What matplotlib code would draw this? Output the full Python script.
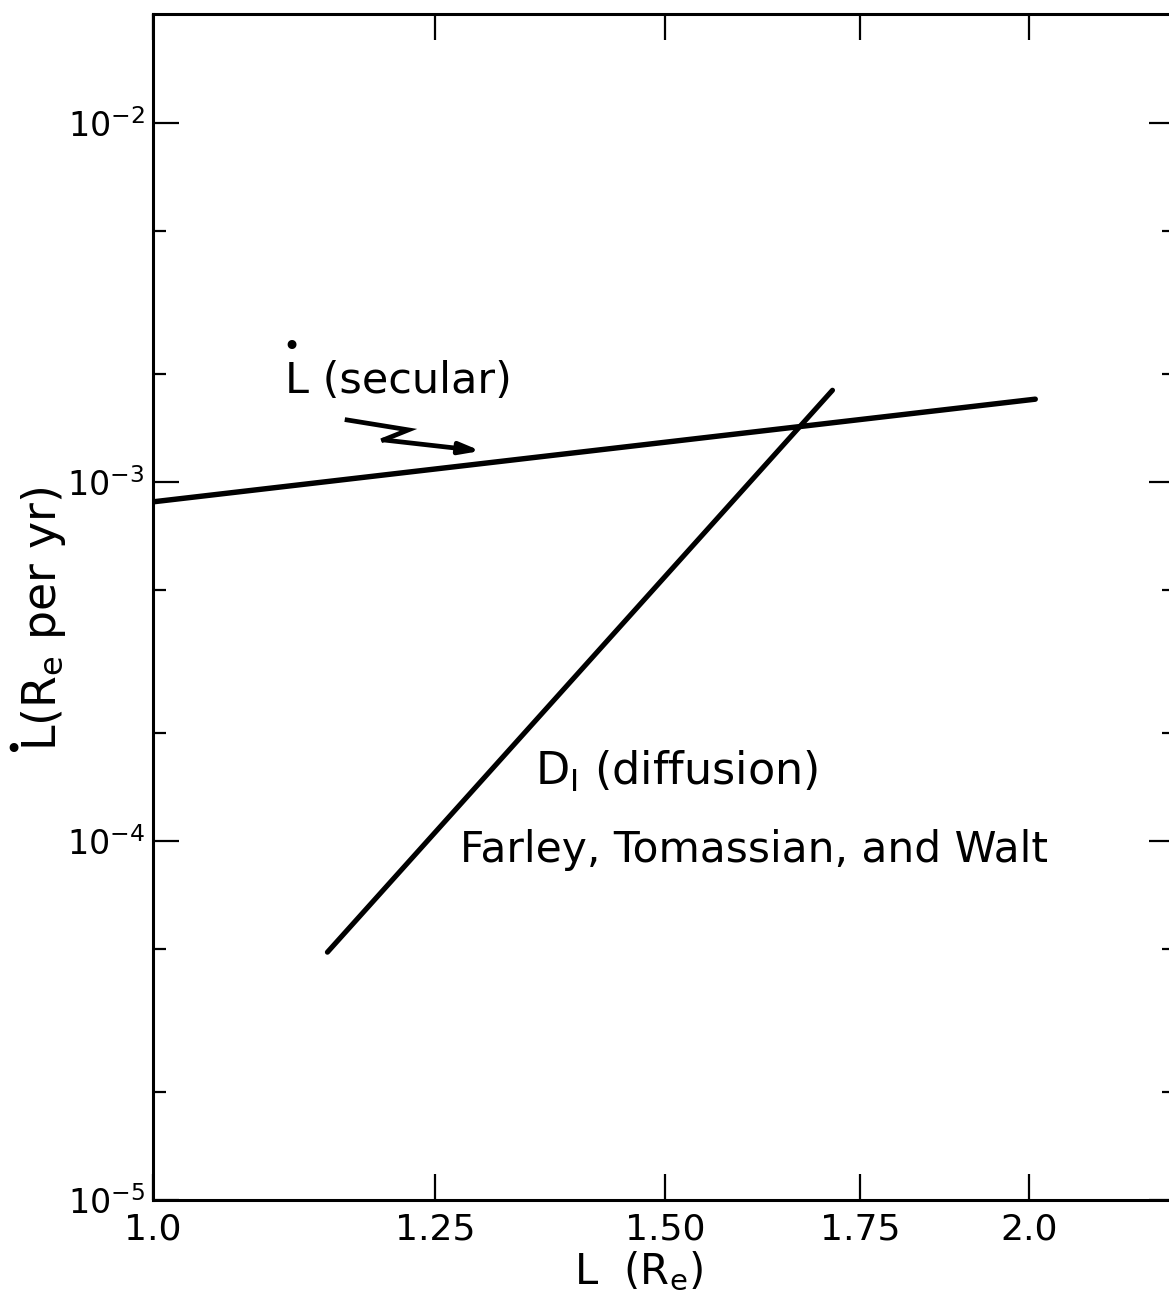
import matplotlib
matplotlib.use('Agg')
import matplotlib.pyplot as plt
from matplotlib.ticker import FixedLocator, NullLocator, NullFormatter, FixedFormatter

plt.rcParams['font.family'] = ['DejaVu Sans']
plt.rcParams['mathtext.fontset'] = 'dejavusans'

# L dot (secular) line
secular_L = [1.0, 2.01]
secular_rate = [8.8e-4, 1.70e-3]

# D_I diffusion (Farley, Tomassian, and Walt)
diffusion_L = [1.148, 1.712]
diffusion_rate = [4.9e-5, 1.8e-3]

# zigzag pointer next to the "L (secular)" label
arrow_L = [1.166, 1.224, 1.200, 1.296]
arrow_rate = [1.488e-3, 1.396e-3, 1.309e-3, 1.220e-3]

x_ticks = [1.0, 1.25, 1.5, 1.75, 2.0]
x_labels = ['1.0', '1.25', '1.50', '1.75', '2.0']
y_ticks = [1e-5, 1e-4, 1e-3, 1e-2]
y_labels = [r'$\mathregular{10^{-5}}$', r'$\mathregular{10^{-4}}$',
            r'$\mathregular{10^{-3}}$', r'$\mathregular{10^{-2}}$']
y_minor = [2e-5, 5e-5, 2e-4, 5e-4, 2e-3, 5e-3]

W, H = 1169, 1304
fig = plt.figure(figsize=(W / 100, H / 100), dpi=100)
ax = fig.add_axes([153 / W, 1 - 1200 / H, (1175 - 153) / W, (1200 - 14) / H])

ax.plot(secular_L, secular_rate, color='black', lw=3.9, solid_capstyle='round')
ax.plot(diffusion_L, diffusion_rate, color='black', lw=3.7, solid_capstyle='round')

# zigzag arrow
ax.plot(arrow_L[:3], arrow_rate[:3], color='black', lw=3.4, solid_joinstyle='miter')
ax.annotate('', xy=(arrow_L[3], arrow_rate[3]), xytext=(arrow_L[2], arrow_rate[2]),
            arrowprops=dict(arrowstyle='-|>,head_length=1.2,head_width=0.35',
                            color='black', lw=3.4, shrinkA=0, shrinkB=0))

ax.set_xscale('log')
ax.set_yscale('log')
ax.set_xlim(1.0, 2.245)
ax.set_ylim(1e-5, 2.01e-2)

ax.xaxis.set_major_locator(FixedLocator(x_ticks))
ax.xaxis.set_major_formatter(FixedFormatter(x_labels))
ax.xaxis.set_minor_locator(NullLocator())
ax.yaxis.set_major_locator(FixedLocator(y_ticks))
ax.yaxis.set_major_formatter(FixedFormatter(y_labels))
ax.yaxis.set_minor_locator(FixedLocator(y_minor))
ax.yaxis.set_minor_formatter(NullFormatter())

ax.tick_params(which='both', direction='in', top=True, right=True, width=1.6)
ax.tick_params(which='major', length=19)
ax.tick_params(which='minor', length=9.5)
ax.tick_params(axis='x', pad=9, labelsize=26)
ax.tick_params(axis='y', pad=6, labelsize=24)
for s in ax.spines.values():
    s.set_linewidth(2.2)

ax.set_xlabel(r'L  (R$_\mathregular{e}$)', fontsize=30)
ax.xaxis.set_label_coords(0.475, -0.042)
ax.set_ylabel(r'L(R$_\mathregular{e}$ per yr)', fontsize=33)
ax.yaxis.set_label_coords(-0.083, 0.49)
# the dot over the axis label's L
fig.text(13 / W, 1 - 750 / H, '•', fontsize=22, ha='center', va='center')

ax.text(1.110, 1.77e-3, 'L (secular)', fontsize=31, va='baseline')
ax.annotate('•', xy=(1.110, 1.77e-3), xytext=(4.5, 33), textcoords='offset points',
            fontsize=22, ha='center', va='center')
ax.text(1.353, 1.43e-4, r'D$_\mathregular{I}$ (diffusion)', fontsize=32, va='baseline')
ax.text(1.275, 8.74e-5, 'Farley, Tomassian, and Walt', fontsize=30.5, va='baseline')

fig.savefig('out.png', dpi=100)
